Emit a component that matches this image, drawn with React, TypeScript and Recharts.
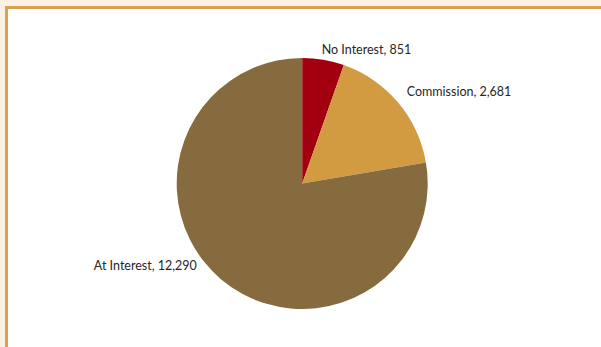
import React from 'react';
import { PieChart, Pie, Cell } from 'recharts';

// Case counts by interest type
const categories = ['No Interest', 'Commission', 'At Interest'];
const counts = [851, 2681, 12290];
const sliceColors = ['#A2000F', '#D29B42', '#866B3E'];

// Fine-tuning of each label around its slice's outer edge
const labelNudges = [
  { dx: -4, dy: 4.5 },
  { dx: -2.5, dy: -2 },
  { dx: -15, dy: -24.5 },
];

const data = categories.map((name, i) => ({ name, value: counts[i] }));

const RADIAN = Math.PI / 180;

const renderLabel = (props: any) => {
  const { cx, cy, midAngle, outerRadius, index, name, value } = props;
  const r = outerRadius + 14.5;
  const cos = Math.cos(-midAngle * RADIAN);
  const sin = Math.sin(-midAngle * RADIAN);
  const nudge = labelNudges[index] || { dx: 0, dy: 0 };
  const x = cx + r * cos + nudge.dx;
  const y = cy + r * sin + nudge.dy;
  return (
    <text
      x={x}
      y={y}
      textAnchor={cos >= 0 ? 'start' : 'end'}
      dominantBaseline="central"
      fill="#262626"
      fontSize={12.5}
      fontFamily="Lato, 'Open Sans', sans-serif"
    >
      {`${name}, ${value.toLocaleString('en-US')}`}
    </text>
  );
};

export default function App() {
  return (
    <div
      style={{
        position: 'fixed',
        left: 0,
        top: 0,
        width: 601,
        height: 347,
        background: '#FBF1E5',
        overflow: 'hidden',
      }}
    >
      <div
        style={{
          position: 'absolute',
          left: 5,
          top: 6,
          width: 700,
          height: 500,
          background: '#FFFFFF',
          borderLeft: '3px solid #D8A24E',
          borderTop: '3px solid #D8A24E',
          boxSizing: 'border-box',
        }}
      />
      <div style={{ position: 'absolute', left: 0, top: 0 }}>
        <PieChart width={601} height={347} margin={{ top: 0, right: 0, bottom: 0, left: 0 }}>
          <Pie
            data={data}
            dataKey="value"
            nameKey="name"
            cx={302.2}
            cy={183.5}
            outerRadius={125.5}
            startAngle={90}
            endAngle={-270}
            stroke="none"
            label={renderLabel}
            labelLine={false}
            isAnimationActive={false}
          >
            {data.map((d, i) => (
              <Cell key={d.name} fill={sliceColors[i]} />
            ))}
          </Pie>
        </PieChart>
      </div>
    </div>
  );
}
